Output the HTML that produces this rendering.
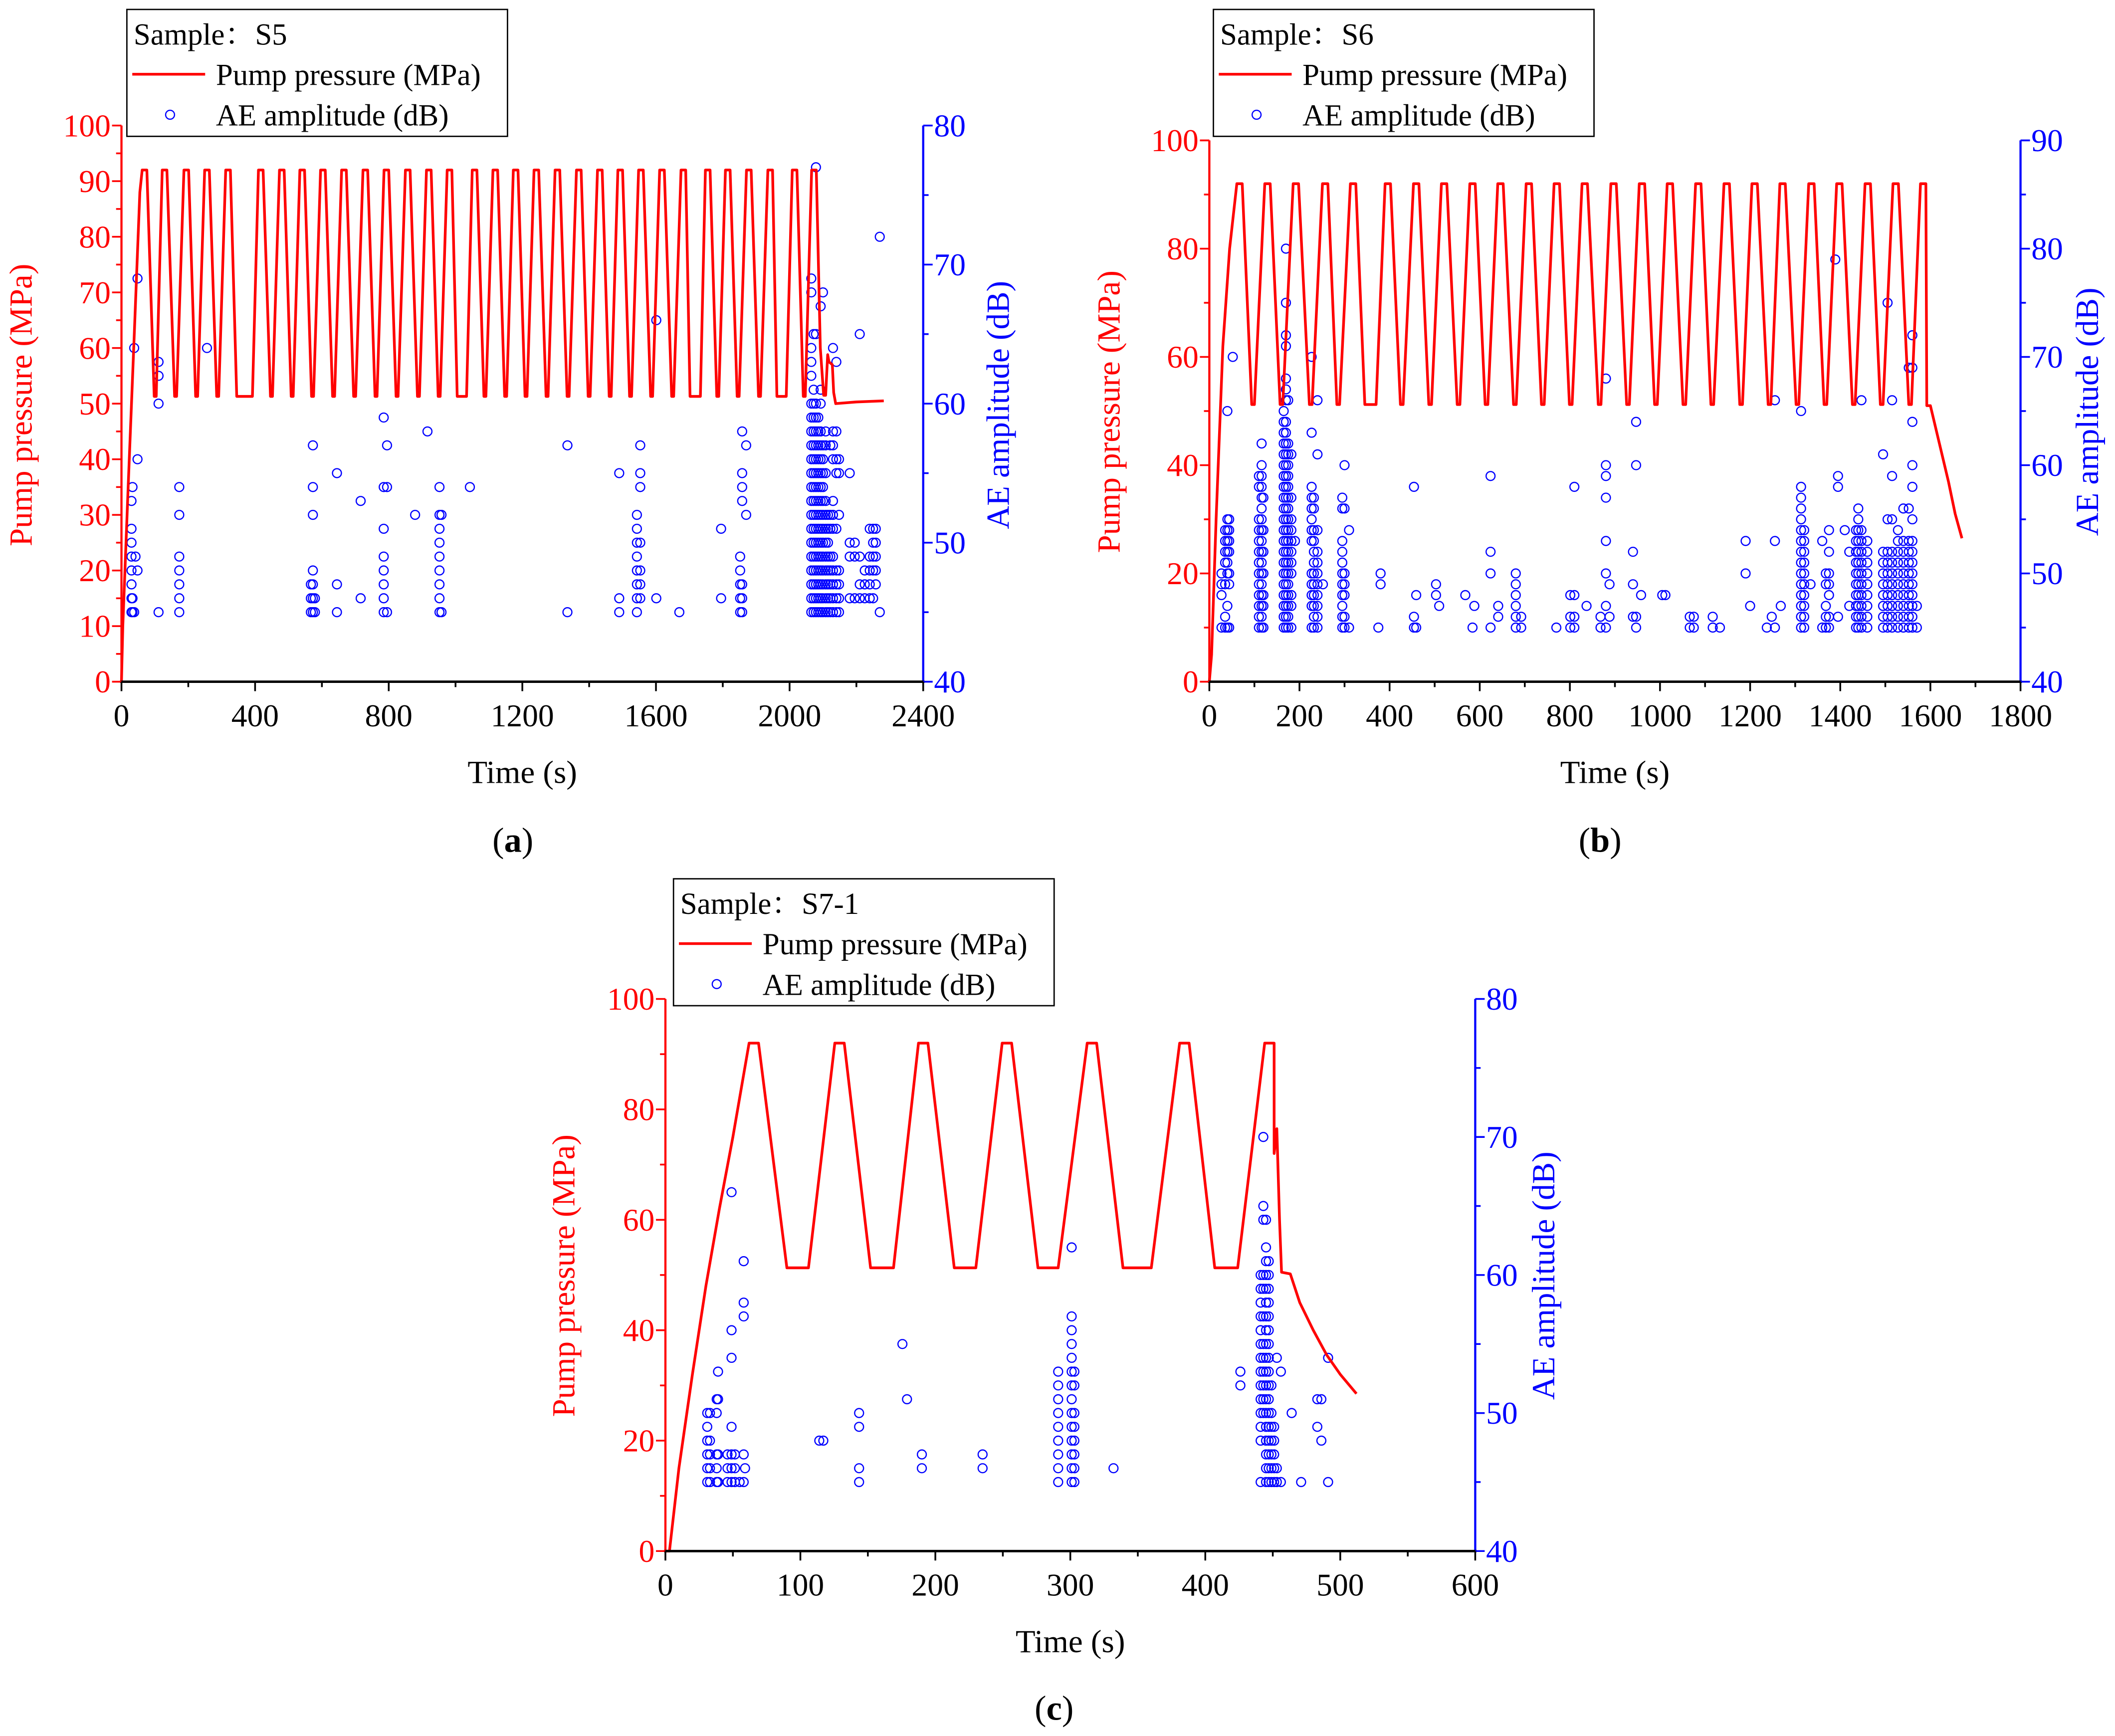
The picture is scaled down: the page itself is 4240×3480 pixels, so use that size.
<!DOCTYPE html>
<html><head><meta charset="utf-8">
<style>
html,body{margin:0;padding:0;background:#fff;}
svg{display:block;}
svg text{font-family:"Liberation Serif","Noto Serif CJK SC",serif;}
</style></head>
<body>
<svg id="root" xmlns="http://www.w3.org/2000/svg" width="4240" height="3480" viewBox="0 0 1567 1286" preserveAspectRatio="none" font-family="Liberation Serif, Noto Serif CJK SC, serif">
<rect x="0" y="0" width="1567" height="1286" fill="#fff"/>
</svg>
<script>
// ---------- DATA ----------
const peakP = 92;
const valleyA = 51.3, valleyB = 51.2, valleyC = 51.3;
const prefixTA = [0,4,20,38,55];
const prefixPA = [0,10,35,62,88];
const peaksA = [69,129,194,256,319,417,480,541,603,666,730,793,857,920,982,1057,1119,1180,1242,1305,1369,1432,1493,1555,1618,1682,1755,1815,1878,1942,2015,2073];
const valleysA = [[98,104],[159,165],[222,228],[285,291],[345,392],[446,452],[508,514],[569,575],[632,638],[695,701],[759,765],[822,828],[886,892],[948,954],[1005,1033],[1085,1091],[1147,1153],[1208,1214],[1271,1277],[1334,1340],[1397,1403],[1460,1466],[1521,1527],[1584,1590],[1647,1653],[1702,1733],[1782,1788],[1843,1849],[1907,1913],[1962,1990],[2041,2047]];
const suffixTA = [2092,2102,2108,2114,2118,2128,2132,2138,2200,2282];
const suffixPA = [60,51.5,51.5,58.8,57.5,57,52,50,50.3,50.5];
const aeA = [[30,[45,46,47,48,49,50,51,53]],[33,[45,46,54]],[38,[64,45]],[42,[49]],[48,[56,69,48]],[111,[45,60,62,63]],[173,[45,46,47,48,49,52,54]],[256,[64]],[567,[45,46,47]],[573,[45,46,47,48,52,54,57]],[579,[45,46]],[645,[45,47,55]],[716,[46,53]],[785,[45,46,47,48,49,51,54,59]],[795,[45,54,57]],[879,[52]],[916,[58]],[952,[45,46,47,48,49,50,51,52,54]],[958,[45,52]],[1043,[54]],[1335,[45,57]],[1490,[45,46,55]],[1543,[45,46,47,48,49,50,51,52]],[1553,[46,47,48,50,54,55,57]],[1601,[46,66]],[1670,[45]],[1795,[46,51]],[1852,[45,46,47,48,49]],[1858,[45,46,47,53,54,55,58]],[1870,[52,57]],
[2065,[45,46,47,48,49,50,51,52,53,54,55,56,57,58,59,60,62,63,64,68,69]],[2072,[45,46,47,48,49,50,51,52,53,54,55,56,57,58,59,60,61,65]],[2079,[45,46,47,48,49,50,51,52,53,54,55,56,57,58,59,60,65,77]],[2086,[45,46,47,48,49,50,51,52,53,54,55,56,57,58,59]],[2093,[45,46,47,48,49,50,51,52,53,54,55,56,57,58,60,61,67]],[2100,[45,46,47,48,49,50,51,52,53,54,55,56,57,68]],[2108,[45,46,47,48,49,50,51,52,53,55,57,58]],[2115,[45,46,47,48,49,50,51,52]],[2122,[45,46,47,48,49,51,52,57]],[2130,[45,46,47,48,49,51,52,53,56,57,58,64]],[2140,[45,46,47,48,51,55,56,58,63]],[2148,[45,46,47,48,52,55,56]],[2180,[46,49,50,55]],[2195,[46,49,50]],[2210,[46,47,49,65]],[2225,[46,47,48]],[2240,[46,47,48,49,51]],[2250,[46,48,49,50,51]],[2258,[47,48,49,50,51]],[2270,[45,72]]];

const prefixTB = [0,5,15,30,45];
const prefixPB = [0,5,30,62,80];
const peaksB = [67,129,192,257,319,396,459,521,584,646,709,771,833,897,960,1022,1085,1148,1210,1272,1336,1398,1461,1523,1584];
const valleysB = [[94,100],[157,163],[222,228],[283,289],[345,370],[424,430],[487,493],[550,556],[612,618],[675,681],[737,743],[799,805],[863,869],[926,932],[988,994],[1051,1057],[1113,1119],[1177,1183],[1240,1246],[1302,1308],[1364,1370],[1427,1433],[1489,1495],[1552,1558]];
const suffixTB = [1592,1600,1620,1640,1655,1670];
const suffixPB = [51,51,44,37,31,26.5];
const aeB = [[27,[45,48,49,50]],[35,[45,46,49,51,52,53,54]],[40,[45,47,50,51,52,53,54,55,65]],[44,[45,49,50,52,53,54,55]],[52,[70]],[110,[45,46,47,48,49,50,51,52,53,54,55,58,59]],[116,[45,46,47,48,49,50,51,52,53,54,55,56,57,58,59,60,62]],[120,[45,47,48,50,52,54,57]],
[165,[45,46,47,48,49,50,51,52,53,54,55,56,57,58,59,60,61,62,63,64,65]],[170,[45,46,47,48,49,50,51,52,53,54,55,56,57,58,59,60,61,62,63,64,66,67,68,71,72,75,80]],[175,[45,46,47,48,49,50,51,52,53,54,55,56,57,58,59,60,61,62,66]],[182,[45,47,48,50,51,52,53,54,55,57,61]],[190,[53]],
[227,[45,47,48,49,50,53,54,55,56,57,58,63,70]],[232,[45,46,47,48,49,50,51,52,53,54,56,57]],[240,[45,46,47,48,49,50,51,52,54,61,66]],[252,[49]],
[295,[45,46,47,48,49,50,51,52,53,56,57]],[300,[45,46,48,49,50,56,60]],[310,[45,54]],[375,[45]],[380,[49,50]],[454,[45,46,58]],[459,[45,48]],[503,[48,49]],[510,[47]],[568,[48]],[584,[45]],[588,[47]],[624,[45,50,52,59]],[641,[46,47]],[680,[45,46,47,48,49,50]],[692,[45,46]],[770,[45]],[801,[45,46,48]],[810,[45,46,48,58]],[837,[47]],[868,[45,46]],[880,[45,47,50,53,57,59,60,68]],[888,[46,49]],[940,[46,49,52]],[947,[45,46,60,64]],[958,[48]],[1005,[48]],[1012,[48]],[1066,[45,46]],[1075,[45,46]],[1117,[45,46]],[1133,[45]],[1190,[50,53]],[1200,[47]],[1237,[45]],[1248,[46]],[1255,[45,53,66]],[1268,[47]],
[1313,[45,46,47,48,49,50,51,52,53,54,55,56,57,58,65]],[1320,[45,46,47,48,49,50,51,52,53,54]],[1334,[49]],[1360,[45,53]],[1368,[45,46,47,49,50]],[1375,[45,46,48,49,50,52,54]],[1389,[79]],[1395,[46,58,59]],[1410,[54]],[1420,[47,52]],
[1435,[45,46,47,48,49,50,51,52,53,54]],[1440,[45,46,47,48,49,50,51,52,53,54,55,56]],[1447,[45,46,47,48,49,50,51,52,53,54,66]],[1460,[45,46,47,48,49,50,51,52,53]],[1495,[45,46,47,48,49,50,51,52,61]],[1505,[45,46,47,48,49,50,51,52,55,75]],[1515,[45,46,47,48,49,50,51,52,55,59,66]],[1528,[45,46,47,48,49,50,51,52,53,54]],[1540,[45,46,47,48,49,50,51,52,53,56]],[1552,[45,46,47,48,49,50,51,52,53,56,69]],[1560,[45,46,47,48,49,50,51,52,53,55,58,60,64,69,72]],[1570,[45,47]]];

const prefixTC = [0,3,10,20,30,40,50];
const prefixPC = [0,0,15,32,48,62,75];
const peaksC = [65.5,129,191,253,316,384.5,447.5];
const valleysC = [[90,106],[152,169],[214,230],[276,291],[339,360],[407,424]];
const suffixTC = [451,453,455,456.5,463,470,480,490,500,512];
const suffixPC = [72,76.5,60,50.5,50.2,45,40,35.5,32,28.5];
const aeC = [[31,[45,46,47,48,49,50]],[33,[45,46,47,48,50]],[38,[45,46,47,50,51]],[39,[45,47,51,53]],[46,[45,46,47]],[49,[45,46,47,49,54,56,66]],[51.5,[45,46,47]],[55,[45]],[58,[45,47,57,58,61]],[59,[46]],[114,[48]],[117,[48]],[143.5,[45,46,49,50]],[175.6,[55]],[179,[51]],[190,[46,47]],[235,[46,47]],[291,[45,46,47,48,49,50,51,52,53]],[301,[45,46,47,48,49,50,51,52,53,54,55,56,57,62]],[303,[45,46,47,48,49,50,52,53]],[332,[46]],[426,[52,53]],[441,[45,48,49,50,51,52,53,54,55,56,57,58,59,60]],[443,[50,51,52,53,54,55,57,59,60,64,65,70]],[445,[45,46,47,48,49,50,51,52,53,54,55,56,57,58,59,60,61,62,64]],[447,[45,46,47,48,49,50,51,52,53,54,55,56,57,58,59,60,61]],[449,[45,46,47,48,49,50,52]],[451,[45,46,47,48,49]],[453,[45,46,54]],[456,[45,53]],[464,[50]],[471,[45]],[483,[49,51]],[486,[48,51]],[491,[45,54]]];

const sampleNames = ["S5","S6","S7-1"];
const panelLetters = ["a","b","c"];
const xTicksA = [0,400,800,1200,1600,2000,2400];
const xTicksB = [0,200,400,600,800,1000,1200,1400,1600,1800];
const xTicksC = [0,100,200,300,400,500,600];
const yTicksA = [0,10,20,30,40,50,60,70,80,90,100];
const yTicksBC = [0,20,40,60,80,100];
const rTicksA = [40,50,60,70,80];
const rTicksB = [40,50,60,70,80,90];

// ---------- DRAWING ----------
const NS = "http://www.w3.org/2000/svg";
const FF = '"Liberation Serif", "Noto Serif CJK SC", serif';
const root = document.getElementById("root");
function mk(tag, attrs, parent){
  const e = document.createElementNS(NS, tag);
  for (const k in attrs) e.setAttribute(k, attrs[k]);
  if (tag === "text") e.setAttribute("font-family", FF);
  (parent||root).appendChild(e);
  return e;
}
function buildLine(pt, pp, peaks, hw, valleys, vp, st, sp){
  const T = pt.slice(), P = pp.slice();
  for (let i=0;i<peaks.length;i++){
    T.push(peaks[i]-hw); P.push(peakP);
    T.push(peaks[i]+hw); P.push(peakP);
    if (i<valleys.length){
      T.push(valleys[i][0]); P.push(vp);
      T.push(valleys[i][1]); P.push(vp);
    }
  }
  return {T:T.concat(st), P:P.concat(sp)};
}
const panels = [
  {x0:90,x1:684,y0:505,y1:93,xmax:2400,xMinor:200,xt:xTicksA,lt:yTicksA,lMinor:5,rmin:40,rmax:80,rt:rTicksA,
   line:buildLine(prefixTA,prefixPA,peaksA,7,valleysA,valleyA,suffixTA,suffixPA),ae:aeA,
   leg:[94,7],ltx:18,rtx:742,timeY:572,letY:622,ltitleY:300},
  {x0:896,x1:1497,y0:505,y1:104,xmax:1800,xMinor:100,xt:xTicksB,lt:yTicksBC,lMinor:10,rmin:40,rmax:90,rt:rTicksB,
   line:buildLine(prefixTB,prefixPB,peaksB,6,valleysB,valleyB,suffixTB,suffixPB),ae:aeB,
   leg:[899,7],ltx:824,rtx:1549,timeY:572,letY:622,ltitleY:305},
  {x0:493,x1:1093,y0:1149,y1:740,xmax:600,xMinor:50,xt:xTicksC,lt:yTicksBC,lMinor:10,rmin:40,rmax:80,rt:rTicksA,
   line:buildLine(prefixTC,prefixPC,peaksC,3.5,valleysC,valleyC,suffixTC,suffixPC),ae:aeC,
   leg:[499,651],ltx:420,rtx:1146,timeY:1216,letY:1265,ltitleY:945}
];
panels.forEach((p,i)=>{
  const g = mk("g",{});
  
  
  const X = t => p.x0 + (t/p.xmax)*(p.x1-p.x0);
  const YL = v => p.y0 - (v/100)*(p.y0-p.y1);
  const YR = v => p.y0 - ((v-p.rmin)/(p.rmax-p.rmin))*(p.y0-p.y1);
  const sg = mk("g",{},g);
  
  
  p.ae.forEach(col=>{
    col[1].forEach(db=>{
      const c = mk("circle",{cx:X(col[0]).toFixed(2),cy:YR(db).toFixed(2),r:3.3,fill:"none",stroke:"#0000ff","stroke-width":0.9},sg);
      
      
    });
  });
  let d = "";
  p.line.T.forEach((t,k)=>{ d += (k?"L":"M")+X(t).toFixed(2)+","+YL(p.line.P[k]).toFixed(2); });
  const ln = mk("path",{d:d,fill:"none",stroke:"#ff0000","stroke-width":2,"stroke-linejoin":"round"},g);
  
  
  const la = mk("line",{x1:p.x0,y1:p.y0,x2:p.x0,y2:p.y1,stroke:"#ff0000","stroke-width":1.6},g);
  
  
  const ra = mk("line",{x1:p.x1,y1:p.y0,x2:p.x1,y2:p.y1,stroke:"#0000ff","stroke-width":1.6},g);
  
  
  const ba = mk("line",{x1:p.x0-1,y1:p.y0,x2:p.x1+1,y2:p.y0,stroke:"#000","stroke-width":1.8},g);
  
  
  for (let v=0; v<=100; v+=p.lMinor){
    const major = p.lt.includes(v);
    mk("line",{x1:p.x0,x2:p.x0-(major?7:4),y1:YL(v),y2:YL(v),stroke:"#ff0000","stroke-width":1.3},g);
  }
  p.lt.forEach(v=>{
    const t = mk("text",{x:p.x0-8,y:YL(v)+8,"text-anchor":"end","font-size":23.5,fill:"#ff0000"},g);
    t.textContent = v;
    
    
  });
  for (let v=p.rmin; v<=p.rmax; v+=5){
    const major = p.rt.includes(v);
    mk("line",{x1:p.x1,x2:p.x1+(major?7:4),y1:YR(v),y2:YR(v),stroke:"#0000ff","stroke-width":1.3},g);
  }
  p.rt.forEach(v=>{
    const t = mk("text",{x:p.x1+8,y:YR(v)+8,"font-size":23.5,fill:"#0000ff"},g);
    t.textContent = v;
    
    
  });
  for (let v=0; v<=p.xmax; v+=p.xMinor){
    const major = p.xt.includes(v);
    mk("line",{x1:X(v),x2:X(v),y1:p.y0,y2:p.y0+(major?7:4),stroke:"#000","stroke-width":1.3},g);
  }
  p.xt.forEach(v=>{
    const t = mk("text",{x:X(v),y:p.y0+33,"text-anchor":"middle","font-size":23.5,fill:"#000"},g);
    t.textContent = v;
    
    
  });
  const lt = mk("text",{x:p.ltx,y:p.ltitleY,"text-anchor":"middle","font-size":24,fill:"#ff0000",transform:`rotate(-90 ${p.ltx} ${p.ltitleY})`,"dominant-baseline":"middle"},g);
  lt.textContent = "Pump pressure (MPa)";
  
  
  const rt = mk("text",{x:p.rtx,y:p.ltitleY,"text-anchor":"middle","font-size":24,fill:"#0000ff",transform:`rotate(-90 ${p.rtx} ${p.ltitleY})`,"dominant-baseline":"middle"},g);
  rt.textContent = "AE amplitude (dB)";
  
  
  const xt = mk("text",{x:(p.x0+p.x1)/2,y:p.timeY+8,"text-anchor":"middle","font-size":24,fill:"#000"},g);
  xt.textContent = "Time (s)";
  
  
  const pl = mk("text",{x:(p.x0+p.x1)/2+(i==1?-11:0)+(i==2?-12:0)+(i==0?-7:0),y:p.letY+9,"text-anchor":"middle","font-size":26,fill:"#000"},g);
  pl.innerHTML = '(<tspan font-weight="bold">'+panelLetters[i]+'</tspan>)';
  
  
  const lx = p.leg[0], ly = p.leg[1];
  const lg = mk("g",{},g);
  
  
  mk("rect",{x:lx,y:ly,width:282,height:94,fill:"#fff",stroke:"#000","stroke-width":1},lg);
  const s = mk("text",{x:lx+5,y:ly+26,"font-size":22.5,fill:"#000"},lg);
  s.textContent = "Sample：" + sampleNames[i];
  
  
  mk("line",{x1:lx+4,x2:lx+58,y1:ly+48,y2:ly+48,stroke:"#ff0000","stroke-width":2},lg);
  const t1 = mk("text",{x:lx+66,y:ly+56,"font-size":22.5,fill:"#000"},lg);
  t1.textContent = "Pump pressure (MPa)";
  
  
  mk("circle",{cx:lx+32,cy:ly+78,r:3.3,fill:"none",stroke:"#0000ff","stroke-width":0.9},lg);
  const t2 = mk("text",{x:lx+66,y:ly+86,"font-size":22.5,fill:"#000"},lg);
  t2.textContent = "AE amplitude (dB)";
  
  
});
</script>
</body></html>
